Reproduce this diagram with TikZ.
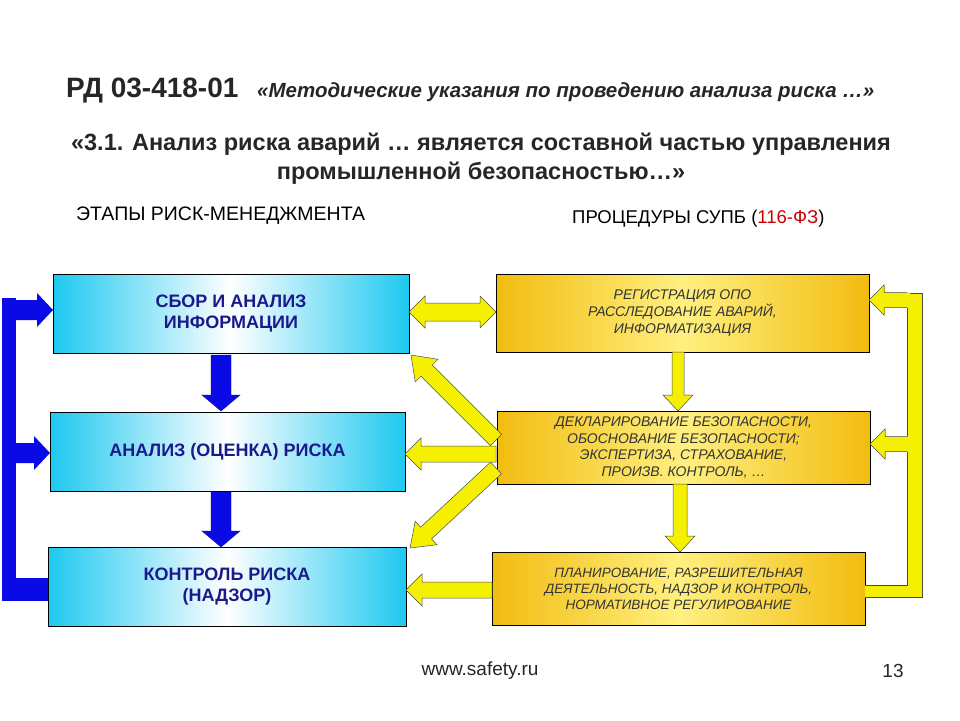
\documentclass[tikz,border=0pt]{standalone}
\usepackage{fontspec}
\setmainfont{Liberation Sans}
\usetikzlibrary{calc}
\definecolor{tblue}{HTML}{1A1A8C}
\definecolor{bcyan}{HTML}{1EC8F0}
\definecolor{gold}{HTML}{F2BC10}
\definecolor{lgold}{HTML}{FFF080}
\definecolor{ayel}{HTML}{F5F000}
\definecolor{ablue}{HTML}{0A0AE6}
\newcommand\barrow[6]{%
\path[#6] let \p1=(#1), \p2=(#2), \n1={atan2(\y2-\y1,\x2-\x1)}, \n2={veclen(\x2-\x1,\y2-\y1)} in
 [shift={(\p1)}, rotate=\n1] (0pt,-#3pt) -- (\n2-#5pt,-#3pt) -- (\n2-#5pt,-#4pt) -- (\n2,0pt) -- (\n2-#5pt,#4pt) -- (\n2-#5pt,#3pt) -- (0pt,#3pt) -- cycle;}
\newcommand\dbarrow[6]{%
\path[#6] let \p1=(#1), \p2=(#2), \n1={atan2(\y2-\y1,\x2-\x1)}, \n2={veclen(\x2-\x1,\y2-\y1)} in
 [shift={(\p1)}, rotate=\n1] (0pt,0pt) -- (#5pt,-#4pt) -- (#5pt,-#3pt) -- (\n2-#5pt,-#3pt) -- (\n2-#5pt,-#4pt) -- (\n2,0pt) -- (\n2-#5pt,#4pt) -- (\n2-#5pt,#3pt) -- (#5pt,#3pt) -- (#5pt,#4pt) -- cycle;}
\tikzset{
 lbox/.style={draw=black, line width=0.6pt, inner sep=0pt, left color=bcyan, right color=bcyan, middle color=white, align=center, text=tblue, font=\bfseries\fontsize{18}{21}\selectfont},
 rbox/.style={draw=black, line width=0.6pt, inner sep=0pt, left color=gold, right color=gold, middle color=lgold, align=center, text=black!80, font=\itshape\fontsize{14}{17}\selectfont},
 yarr/.style={fill=ayel, draw=black!70, line width=0.5pt},
 barr/.style={fill=ablue, draw=ablue!70!black, line width=0.4pt},
}
\begin{document}
\begin{tikzpicture}[x=1pt,y=-1pt]
\useasboundingbox (0,0) rectangle (960,720);
\fill[white] (0,0) rectangle (960,720);
% titles
\node[anchor=base west, inner sep=0pt, font=\bfseries\fontsize{28}{30}\selectfont, text=black!85] (t1) at (66,97) {РД 03-418-01};
\node[anchor=base west, inner sep=0pt, font=\bfseries\itshape\fontsize{20.5}{22}\selectfont, text=black!85] (t2) at (257,97) {«Методические указания по проведению анализа риска …»};
\node[align=center, inner sep=0pt, font=\bfseries\fontsize{23.5}{29}\selectfont, text=black!85] (t3) at (481,159) {«3.1. Анализ риска аварий … является составной частью управления\\промышленной безопасностью…»};
\node[anchor=base west, inner sep=0pt, font=\fontsize{19.5}{21}\selectfont] (h1) at (76,220) {ЭТАПЫ РИСК-МЕНЕДЖМЕНТА};
\node[anchor=base west, inner sep=0pt, font=\fontsize{18.5}{20}\selectfont] (h2) at (572,223) {ПРОЦЕДУРЫ СУПБ (\textcolor{red!80!black}{116-ФЗ})};
% left boxes
\node[lbox, minimum width=356, minimum height=79] (L1) at (231,313.5) {СБОР И АНАЛИЗ\\ИНФОРМАЦИИ};
\node[lbox, minimum width=355, minimum height=79] (L2) at (227.5,451.5) {АНАЛИЗ (ОЦЕНКА) РИСКА};
\node[lbox, minimum width=358, minimum height=79] (L3) at (227,586.5) {КОНТРОЛЬ РИСКА\\(НАДЗОР)};
% right boxes
\node[rbox, minimum width=373, minimum height=78] (R1) at (682.5,313) {РЕГИСТРАЦИЯ ОПО\\РАССЛЕДОВАНИЕ АВАРИЙ,\\ИНФОРМАТИЗАЦИЯ};
\node[rbox, minimum width=373, minimum height=73, font=\itshape\fontsize{14}{16.5}\selectfont] (R2) at (683.5,447.5) {ДЕКЛАРИРОВАНИЕ  БЕЗОПАСНОСТИ,\\ОБОСНОВАНИЕ  БЕЗОПАСНОСТИ;\\ЭКСПЕРТИЗА, СТРАХОВАНИЕ,\\ПРОИЗВ. КОНТРОЛЬ, …};
\node[rbox, minimum width=373, minimum height=73, font=\itshape\fontsize{13.5}{16}\selectfont] (R3) at (678.5,588.5) {ПЛАНИРОВАНИЕ,  РАЗРЕШИТЕЛЬНАЯ\\ДЕЯТЕЛЬНОСТЬ,  НАДЗОР И КОНТРОЛЬ,\\НОРМАТИВНОЕ  РЕГУЛИРОВАНИЕ};
% coordinates for arrows
\coordinate (b1s) at (221,355); \coordinate (b1e) at (221,411);
\coordinate (b2s) at (221,492); \coordinate (b2e) at (221,547);
\coordinate (y1s) at (678,352); \coordinate (y1e) at (678,411);
\coordinate (y2s) at (680,484); \coordinate (y2e) at (680,552);
\coordinate (d1a) at (409,312); \coordinate (d1b) at (496,312);
\coordinate (h2s) at (496,454); \coordinate (h2e) at (405,454);
\coordinate (h3s) at (492,590); \coordinate (h3e) at (406,590);
\coordinate (g1s) at (496,440); \coordinate (g1e) at (411,355);
\coordinate (g2s) at (496,468); \coordinate (g2e) at (410,548);
% blue down arrows
\barrow{b1s}{b1e}{10}{19}{16}{barr}
\barrow{b2s}{b2e}{10}{19}{16}{barr}
% blue loop
\fill[ablue] (2,298) rectangle (16,601);
\fill[ablue] (2,578) rectangle (48,601);
\coordinate (bl1s) at (10,310); \coordinate (bl1e) at (53,310);
\coordinate (bl2s) at (10,453); \coordinate (bl2e) at (50,453);
\barrow{bl1s}{bl1e}{10}{17}{16}{fill=ablue}
\barrow{bl2s}{bl2e}{10}{17}{16}{fill=ablue}
% yellow arrows
\barrow{y1s}{y1e}{6}{15}{16}{yarr}
\barrow{y2s}{y2e}{7}{15}{16}{yarr}
\dbarrow{d1a}{d1b}{9}{16}{16}{yarr}
\barrow{h2s}{h2e}{8}{16}{16}{yarr}
\barrow{h3s}{h3e}{8}{16}{16}{yarr}
\barrow{g1s}{g1e}{8}{16}{22}{yarr}
\barrow{g2s}{g2e}{8}{16}{22}{yarr}
% yellow right loop
\fill[ayel] (907,293) rectangle (922,597);
\fill[ayel] (865,585) rectangle (922,597);
\draw[black!70, line width=0.5pt] (865,597) -- (922,597) -- (922,293) -- (907,293);
\draw[black!70, line width=0.5pt] (865,585) -- (907,585) -- (907,452);
\draw[black!70, line width=0.5pt] (907,437) -- (907,308);
\coordinate (yr1s) at (910,300); \coordinate (yr1e) at (869,300);
\coordinate (yr2s) at (910,444); \coordinate (yr2e) at (870,444);
\barrow{yr1s}{yr1e}{7.5}{15}{16}{fill=ayel}
\barrow{yr2s}{yr2e}{7.5}{15}{16}{fill=ayel}
\draw[black!70, line width=0.5pt] (907,292.5) -- (884,292.5) -- (884,285) -- (869,300) -- (884,315) -- (884,307.5) -- (907,307.5);
\draw[black!70, line width=0.5pt] (907,436.5) -- (885,436.5) -- (885,429) -- (870,444) -- (885,459) -- (885,451.5) -- (907,451.5);
% footer
\node[font=\fontsize{19}{21}\selectfont, text=black!85] (ft) at (480,671) {www.safety.ru};
\node[font=\fontsize{19}{21}\selectfont, text=black!85] (pg) at (893,671) {13};
\end{tikzpicture}
\end{document}
